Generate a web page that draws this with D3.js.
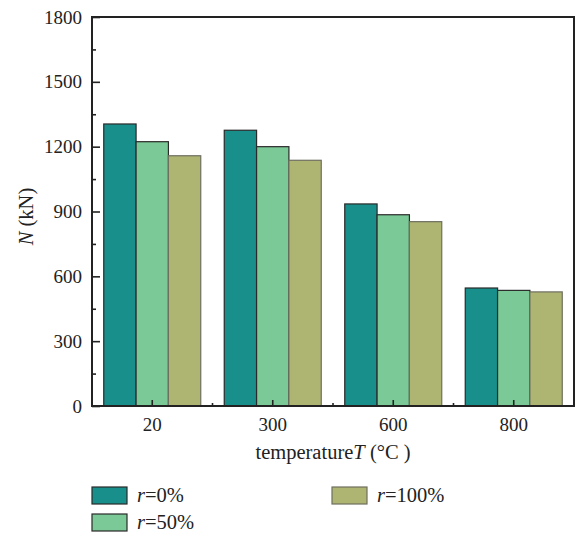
<!DOCTYPE html>
<html>
<head>
<meta charset="utf-8">
<script src="https://cdn.jsdelivr.net/npm/d3@7"></script>
<style>
  body { margin: 0; background: #fff; }
  svg { display: block; font-family: "Liberation Serif", "DejaVu Serif", serif; }
</style>
</head>
<body>
<svg width="578" height="534"></svg>
<script>
// data
const temps = ["20", "300", "600", "800"];
const seriesNames = ["r=0%", "r=50%", "r=100%"];
const r0 = [1305, 1276, 935, 546];
const r50 = [1223, 1200, 885, 535];
const r100 = [1158, 1137, 853, 528];
const yTicks = [0, 300, 600, 900, 1200, 1500, 1800];

const colors = ["#188f8b", "#7bc997", "#aeb472"];
const strokes = ["#2a2a2a", "#2a2a2a", "#6f6f60"];

const svg = d3.select("svg");
const margin = {top: 17, right: 4, bottom: 128, left: 92},
      plotW = 578 - margin.left - margin.right,
      plotH = 534 - margin.top - margin.bottom;

const g = svg.append("g")
    .attr("transform", `translate(${margin.left}, ${margin.top})`);

const x0 = d3.scaleBand()
    .domain(temps)
    .range([0, plotW])
    .paddingInner(0.195)
    .paddingOuter(0.0975);

const x1 = d3.scaleBand()
    .domain(seriesNames)
    .range([0, x0.bandwidth()]);

const y = d3.scaleLinear()
    .domain([0, 1800])
    .range([plotH, 0]);

const rows = temps.map((t, i) => ({
    temp: t,
    vals: [r0[i], r50[i], r100[i]].map((v, j) => ({name: seriesNames[j], v: v, j: j}))
}));

// bars
const grp = g.selectAll(".grp").data(rows).enter().append("g")
    .attr("transform", d => `translate(${x0(d.temp)}, 0)`);

grp.selectAll("rect").data(d => d.vals).enter().append("rect")
    .attr("x", d => x1(d.name))
    .attr("y", d => y(d.v))
    .attr("width", x1.bandwidth())
    .attr("height", d => plotH - y(d.v))
    .attr("fill", d => colors[d.j])
    .attr("stroke", d => strokes[d.j])
    .attr("stroke-width", 1.2);

// Y axis: inward ticks, minor ticks between
const yAxis = d3.axisRight(y).tickValues(yTicks).tickSize(8).tickFormat("");
g.append("g").call(yAxis).call(s => s.select(".domain").remove())
    .selectAll("line").attr("stroke", "#222").attr("stroke-width", 1.6);

const yMinor = d3.axisRight(y).tickValues(d3.range(150, 1800, 300)).tickSize(4).tickFormat("");
g.append("g").call(yMinor).call(s => s.select(".domain").remove())
    .selectAll("line").attr("stroke", "#222").attr("stroke-width", 1.6);

g.selectAll(".ylab").data(yTicks).enter().append("text")
    .attr("x", -10)
    .attr("y", d => y(d))
    .attr("dy", "0.35em")
    .attr("text-anchor", "end")
    .attr("font-size", "19px")
    .attr("fill", "#222")
    .text(d => d);

// X axis: inward ticks at centers, minor ticks between groups
const xAxis = d3.axisTop(x0).tickSize(6).tickFormat("");
g.append("g").attr("transform", `translate(0, ${plotH})`).call(xAxis)
    .call(s => s.select(".domain").remove())
    .selectAll("line").attr("stroke", "#222").attr("stroke-width", 1.6);

const xMinor = temps.slice(1).map(t => x0(t) - x0.step() * x0.paddingInner() / 2);
g.selectAll(".xminor").data(xMinor).enter().append("line")
    .attr("x1", d => d).attr("x2", d => d)
    .attr("y1", plotH).attr("y2", plotH - 3)
    .attr("stroke", "#222").attr("stroke-width", 1.6);

g.selectAll(".xlab").data(temps).enter().append("text")
    .attr("x", d => x0(d) + x0.bandwidth() / 2)
    .attr("y", plotH + 25)
    .attr("text-anchor", "middle")
    .attr("font-size", "19px")
    .attr("fill", "#222")
    .text(d => d);

// frame
g.append("rect")
    .attr("width", plotW).attr("height", plotH)
    .attr("fill", "none").attr("stroke", "#222").attr("stroke-width", 2);

// axis titles
const xt = g.append("text")
    .attr("x", plotW / 2)
    .attr("y", plotH + 53)
    .attr("text-anchor", "middle")
    .attr("font-size", "20.5px")
    .attr("fill", "#222");
xt.append("tspan").text("temperature");
xt.append("tspan").attr("font-style", "italic").text("T");
xt.append("tspan").text(" (°C )");

const yt = g.append("text")
    .attr("transform", `translate(-59, ${plotH / 2 + 5}) rotate(-90)`)
    .attr("text-anchor", "middle")
    .attr("font-size", "20.5px")
    .attr("fill", "#222");
yt.append("tspan").attr("font-style", "italic").text("N");
yt.append("tspan").text(" (kN)");

// legend
const legendPos = [[92, 487], [92, 514], [332, 487]];
const leg = svg.selectAll(".leg").data(seriesNames).enter().append("g")
    .attr("transform", (d, i) => `translate(${legendPos[i][0]}, ${legendPos[i][1]})`);
leg.append("rect")
    .attr("width", 35).attr("height", 17)
    .attr("fill", (d, i) => colors[i])
    .attr("stroke", (d, i) => strokes[i])
    .attr("stroke-width", 1.2);
const lt = leg.append("text")
    .attr("x", 45).attr("y", 15)
    .attr("font-size", "20.5px")
    .attr("fill", "#222");
lt.append("tspan").attr("font-style", "italic").text("r");
lt.append("tspan").text(d => d.slice(1));
</script>
</body>
</html>
